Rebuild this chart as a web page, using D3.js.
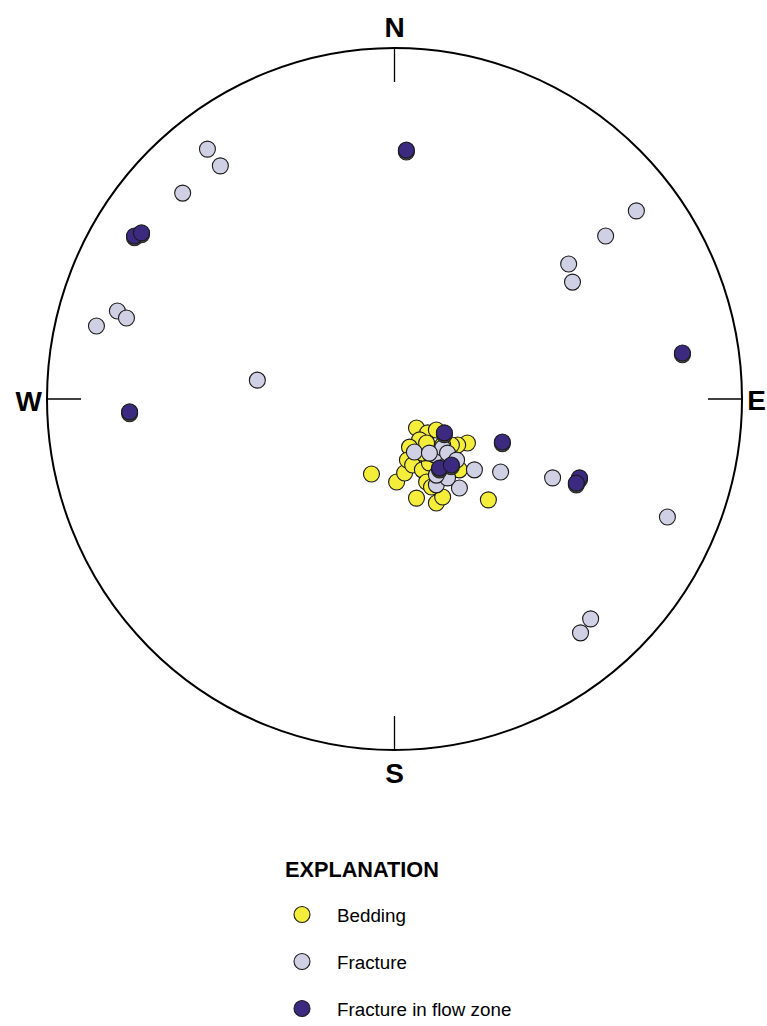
<!DOCTYPE html>
<html lang="en">
<head>
    <meta charset="UTF-8">
    <title>Stereonet - bedding and fractures</title>
    <script src="https://d3js.org/d3.v7.min.js"></script>
    <style>
        body { margin: 0; background: #fff; font-family: "Liberation Sans", Arial, sans-serif; }
        svg { display: block; }
    </style>
</head>
<body>
<script>
    // ---------------- data (position in percent of net radius; east, north) ----------------
    const bedding = [
        [-6.6, -21.5], [0.6, -23.8], [2.9, -21.2], [6.3, -28.4], [12.0, -29.8],
        [13.8, -28.1], [26.9, -28.9], [6.3, -8.3], [9.5, -9.7], [12.0, -8.9],
        [7.2, -11.7], [4.3, -13.8], [20.9, -12.6], [18.1, -13.2], [3.7, -17.5],
        [5.2, -18.9], [8.0, -20.3], [9.2, -23.8], [18.6, -20.3], [16.3, -13.2],
        [13.8, -13.2], [10.0, -18.3], [8.0, -15.5], [9.2, -12.6], [10.6, -25.2]
    ];
    const fracture = [
        [-53.6, 71.6], [-49.9, 66.8], [-60.7, 59.0], [-79.4, 25.2], [-76.8, 23.2],
        [-85.4, 20.9], [-39.3, 5.4], [69.3, 53.9], [60.5, 46.7], [49.9, 38.7],
        [51.0, 33.5], [78.2, -33.8], [56.2, -63.0], [53.3, -67.0], [45.3, -22.6],
        [30.4, -20.9], [22.9, -20.3],
        [5.7, -15.2], [11.5, -16.0], [13.8, -14.0], [15.2, -15.5], [17.8, -17.5],
        [18.6, -25.5], [12.0, -24.6], [15.2, -22.6], [12.0, -21.8], [10.0, -15.5]
    ];
    const flowZone = [
        [3.4, 71.3], [-74.5, 46.7], [-72.5, 47.6], [82.5, 13.2], [-75.9, -3.7],
        [30.9, -12.3], [53.0, -22.6], [52.1, -24.1], [14.3, -9.7], [12.9, -19.8],
        [16.3, -18.9]
    ];
    const compass = ["N", "E", "S", "W"];
    const legendLabels = ["Bedding", "Fracture", "Fracture in flow zone"];
    const colors = ["#f4ee3b", "#cfd0e3", "#3b2a80"];

    // ---------------- layout ----------------
    const width = 767, height = 1026;
    const cx = 394.5, cy = 399, rx = 347.5, ry = 351;

    const x = d3.scaleLinear().domain([-100, 100]).range([cx - 349, cx + 349]);
    const y = d3.scaleLinear().domain([-100, 100]).range([cy + 349, cy - 349]);

    const svg = d3.select("body").append("svg")
        .attr("width", width)
        .attr("height", height);

    // net outline
    svg.append("ellipse")
        .attr("cx", cx).attr("cy", cy)
        .attr("rx", rx).attr("ry", ry)
        .attr("fill", "none")
        .attr("stroke", "#000")
        .attr("stroke-width", 2);

    // compass ticks
    const tickLen = 34;
    const ticks = [
        [cx, cy - ry, cx, cy - ry + tickLen],
        [cx + rx, cy, cx + rx - tickLen, cy],
        [cx, cy + ry, cx, cy + ry - tickLen],
        [cx - rx, cy, cx - rx + tickLen, cy]
    ];
    svg.selectAll("line.tick")
        .data(ticks)
        .enter().append("line")
        .attr("class", "tick")
        .attr("x1", d => d[0]).attr("y1", d => d[1])
        .attr("x2", d => d[2]).attr("y2", d => d[3])
        .attr("stroke", "#000")
        .attr("stroke-width", 1.3);

    // compass letters
    const letterPos = {
        N: { x: cx, y: 37, anchor: "middle" },
        E: { x: 766, y: 410, anchor: "end" },
        S: { x: cx, y: 783, anchor: "middle" },
        W: { x: 42, y: 411, anchor: "end" }
    };
    svg.selectAll("text.compass")
        .data(compass)
        .enter().append("text")
        .attr("class", "compass")
        .attr("x", d => letterPos[d].x)
        .attr("y", d => letterPos[d].y)
        .attr("text-anchor", d => letterPos[d].anchor)
        .attr("font-size", 28)
        .attr("font-weight", "bold")
        .text(d => d);

    // ---------------- points ----------------
    const r = 8;
    function drawSet(data, color, shadow) {
        const g = svg.append("g");
        if (shadow) {
            g.selectAll("circle.shadow")
                .data(data)
                .enter().append("circle")
                .attr("class", "shadow")
                .attr("cx", d => x(d[0]))
                .attr("cy", d => y(d[1]) + 1.8)
                .attr("r", r)
                .attr("fill", "#555")
                .attr("stroke", "#222")
                .attr("stroke-width", 1.1);
        }
        g.selectAll("circle.pt")
            .data(data)
            .enter().append("circle")
            .attr("class", "pt")
            .attr("cx", d => x(d[0]))
            .attr("cy", d => y(d[1]))
            .attr("r", r)
            .attr("fill", color)
            .attr("stroke", "#1a1a1a")
            .attr("stroke-width", 1.1);
    }
    drawSet(bedding, colors[0], false);
    drawSet(fracture, colors[1], false);
    drawSet(flowZone, colors[2], true);

    // ---------------- legend ----------------
    svg.append("text")
        .attr("x", 285)
        .attr("y", 877)
        .attr("font-size", 21.7)
        .attr("font-weight", "bold")
        .text("EXPLANATION");

    const legend = svg.selectAll("g.legend")
        .data(legendLabels)
        .enter().append("g")
        .attr("class", "legend")
        .attr("transform", (d, i) => `translate(302, ${914.5 + i * 47})`);
    legend.append("circle")
        .attr("r", r)
        .attr("fill", (d, i) => colors[i])
        .attr("stroke", "#1a1a1a")
        .attr("stroke-width", 1.1);
    legend.append("text")
        .attr("x", 35)
        .attr("y", 7)
        .attr("font-size", 18.8)
        .text(d => d);
</script>
</body>
</html>
